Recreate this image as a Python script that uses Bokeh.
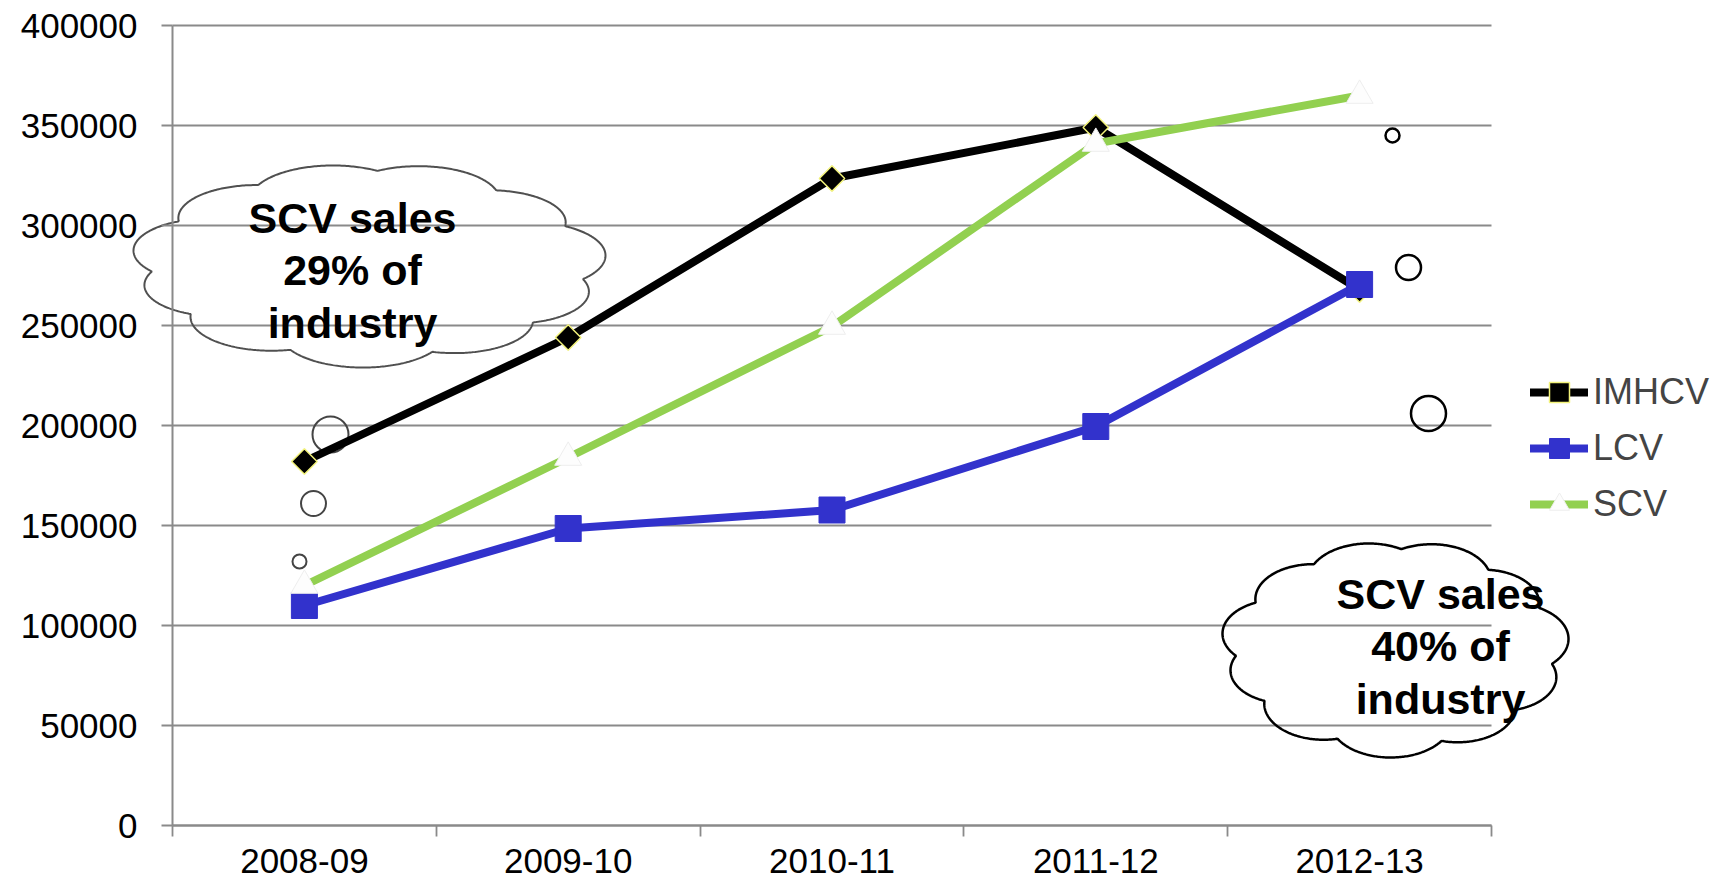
import numpy as np
from bokeh.plotting import figure
from bokeh.models import (Range1d, LinearAxis, FixedTicker, BasicTickFormatter,
                          Legend, LegendItem, Grid)
from bokeh.core.properties import value
from bokeh.embed import file_html
from bokeh.resources import INLINE

# ---------------- data ----------------
categories = ["2008-09", "2009-10", "2010-11", "2011-12", "2012-13"]
imhcv = [182000, 244000, 323500, 349000, 268000]
lcv = [110000, 148500, 157750, 199500, 270500]
scv = [120000, 184000, 249500, 341000, 365000]
y_ticks = [0, 50000, 100000, 150000, 200000, 250000, 300000, 350000, 400000]
cloud_texts = ["SCV sales\n29% of\nindustry", "SCV sales\n40% of\nindustry"]

# ---------------- layout helpers (screen px -> data) ----------------
W, H = 1722, 889
X0PX, CATW = 172.0, 263.8      # left edge of plot area, width of one category
Y0PX, YPP = 825.0, 500.0       # y pixel of value 0, value units per pixel


def dx(px):
    return (px - X0PX) / CATW - 0.5


def dy(py):
    return (Y0PX - py) * YPP


xs_idx = list(range(len(categories)))
FONT = "Liberation Sans"
GRID = "#8a8a8a"

p = figure(width=W, height=H,
           x_range=Range1d(dx(0), dx(W)), y_range=Range1d(dy(H), dy(0)),
           x_axis_location=None, y_axis_location=None,
           toolbar_location=None, output_backend="svg", min_border=0)
p.outline_line_color = None
p.background_fill_color = "white"
p.border_fill_color = "white"
for g in p.grid:
    g.visible = False

grid = Grid(dimension=1, ticker=FixedTicker(ticks=y_ticks),
            bounds=(-10000, 410000), cross_bounds=(-0.5, len(categories) - 0.5),
            grid_line_color=GRID, grid_line_width=1.8)
p.add_layout(grid)

yaxis = LinearAxis(ticker=FixedTicker(ticks=y_ticks),
                   formatter=BasicTickFormatter(use_scientific=False),
                   fixed_location=-0.5, bounds=(y_ticks[0], y_ticks[-1]),
                   axis_line_color=GRID, axis_line_width=2,
                   major_tick_line_color=GRID, major_tick_line_width=1.8,
                   major_tick_out=11, major_tick_in=0,
                   minor_tick_out=0, minor_tick_in=0,
                   major_label_text_font=FONT, major_label_text_font_size="35px",
                   major_label_text_color="black", major_label_standoff=24)
p.add_layout(yaxis, "left")

xaxis = LinearAxis(ticker=FixedTicker(ticks=xs_idx,
                                      minor_ticks=[i - 0.5 for i in range(len(categories) + 1)]),
                   major_label_overrides={i: c for i, c in zip(xs_idx, categories)},
                   fixed_location=0, bounds=(-0.5, len(categories) - 0.5),
                   axis_line_color=GRID, axis_line_width=2,
                   major_tick_out=0, major_tick_in=0,
                   minor_tick_line_color=GRID, minor_tick_line_width=1.8,
                   minor_tick_out=11, minor_tick_in=0,
                   major_label_text_font=FONT, major_label_text_font_size="35px",
                   major_label_text_color="black", major_label_standoff=12)
p.add_layout(xaxis, "below")


# ---------------- clouds (annotation shapes) ----------------
def cloud(cx, cy, hw, hh, n=900):
    lobes = [(8, 0.70, 0.36), (40, 0.70, 0.34), (72, 0.72, 0.36), (103, 0.70, 0.37),
             (135, 0.70, 0.35), (168, 0.72, 0.34), (198, 0.70, 0.33), (232, 0.70, 0.36),
             (268, 0.72, 0.37), (303, 0.70, 0.35), (336, 0.70, 0.34)]
    th = np.linspace(0, 2 * np.pi, n)
    cx_, cy_ = np.cos(th), np.sin(th)
    t = np.zeros(n)
    for a, d, r in lobes:
        ar = np.radians(a)
        px, py = d * np.cos(ar), d * np.sin(ar)
        b = cx_ * px + cy_ * py
        disc = r * r - (px * px + py * py - b * b)
        tt = np.where(disc >= 0, b + np.sqrt(np.clip(disc, 0, None)), 0)
        t = np.maximum(t, tt)
    X, Y = t * cx_, t * cy_
    X = (X - (X.max() + X.min()) / 2) / ((X.max() - X.min()) / 2)
    Y = (Y - (Y.max() + Y.min()) / 2) / ((Y.max() - Y.min()) / 2)
    sx = cx + hw * X
    sy = cy - hh * Y
    return [dx(v) for v in sx], [dy(v) for v in sy]


lx, ly = cloud(369, 266, 236, 101)
p.patch(lx, ly, fill_color=None, line_color="#505050", line_width=2)
rx, ry = cloud(1395, 650, 173, 107)
p.patch(rx, ry, fill_color=None, line_color="black", line_width=2.5)

# thought-bubble circles (px positions)
lb = [(330, 434, 36), (313, 503, 25), (299, 561, 14)]
rb = [(1392, 135, 14), (1408, 267, 25), (1428, 413, 35)]
p.scatter([dx(a) for a, b, s in lb], [dy(b) for a, b, s in lb], size=[s for a, b, s in lb],
          marker="circle", fill_color=None, line_color="#444444", line_width=2)
p.scatter([dx(a) for a, b, s in rb], [dy(b) for a, b, s in rb], size=[s for a, b, s in rb],
          marker="circle", fill_color=None, line_color="black", line_width=2.5)

# ---------------- series ----------------
l1 = p.line(xs_idx, imhcv, line_color="black", line_width=8, line_join="round", line_cap="round")
m1 = p.scatter(xs_idx, imhcv, marker="square", angle=np.pi / 4, size=18,
               fill_color="black", line_color="#f2f27a", line_width=1.5)
l2 = p.line(xs_idx, lcv, line_color="#3232cc", line_width=8, line_join="round", line_cap="round")
m2 = p.scatter(xs_idx, lcv, marker="square", size=26,
               fill_color="#3232cc", line_color="#3232cc", line_width=1)
l3 = p.line(xs_idx, scv, line_color="#92d050", line_width=8, line_join="round", line_cap="round")
m3 = p.scatter(xs_idx, scv, marker="triangle", size=27,
               fill_color="#fdfdfd", line_color="#eeeeee", line_width=1)

# ---------------- cloud text ----------------
p.text(x=[dx(352), dx(1440)], y=[dy(270), dy(646)], text=cloud_texts,
       text_align="center", text_baseline="middle", text_font=value(FONT),
       text_font_style="bold", text_font_size="43px", text_color="black",
       text_line_height=1.1)

# ---------------- legend ----------------
legend = Legend(items=[LegendItem(label="IMHCV", renderers=[l1, m1]),
                       LegendItem(label="LCV", renderers=[l2, m2]),
                       LegendItem(label="SCV", renderers=[l3, m3])],
                location=(1530, H - 529), orientation="vertical",
                padding=0, margin=0, spacing=6, glyph_width=58, glyph_height=50,
                label_height=50, label_standoff=5,
                label_text_font=FONT, label_text_font_size="36px",
                border_line_color=None, background_fill_alpha=0)
p.add_layout(legend)

open("out.html", "w").write(file_html(p, INLINE))
